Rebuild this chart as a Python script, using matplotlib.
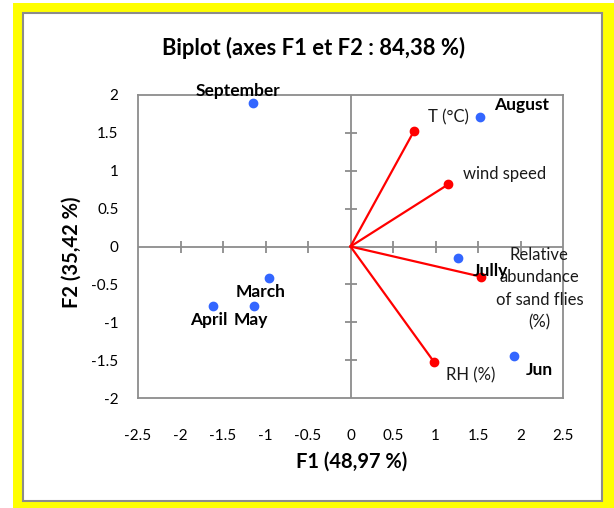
import matplotlib
matplotlib.use("Agg")
import matplotlib.pyplot as plt
from matplotlib.patches import Rectangle
import numpy as np

plt.rcParams['font.family'] = ['Lato', 'DejaVu Sans']

# Observations (months)
obs_names = ["September", "August", "Jully", "Jun", "March", "April", "May"]
obs_f1 = [-1.15, 1.52, 1.27, 1.92, -0.96, -1.62, -1.13]
obs_f2 = [1.89, 1.71, -0.15, -1.44, -0.42, -0.78, -0.78]

# Variables (vectors)
var_names = ["T (°C)", "wind speed", "Relative\nabundance\nof sand flies\n(%)", "RH (%)"]
var_f1 = [0.75, 1.15, 1.54, 0.98]
var_f2 = [1.53, 0.82, -0.40, -1.52]

xticks = [-2.5, -2, -1.5, -1, -0.5, 0, 0.5, 1, 1.5, 2, 2.5]
yticks = [-2, -1.5, -1, -0.5, 0, 0.5, 1, 1.5, 2]

title = "Biplot (axes F1 et F2 : 84,38 %)"
xlabel = "F1 (48,97 %)"
ylabel = "F2 (35,42 %)"

# label offsets (pixels)
obs_off = {"September": (-15, 12), "August": (42, 12), "Jully": (32, -13), "Jun": (26, -14),
           "March": (-8, -14), "April": (-4, -14), "May": (-4, -14)}
var_off = [(34, 13), (56, 10), (58, -12), (37, -14)]

W, H = 614, 508
fig = plt.figure(figsize=(W / 100, H / 100), dpi=100)
fig.patch.set_facecolor("white")
fig.patches.append(Rectangle((13 / W, 0), (W - 13) / W, (508 - 3) / H, transform=fig.transFigure,
                             facecolor="#FFFF00", edgecolor="none", zorder=-3))
fig.patches.append(Rectangle((23 / W, 1 - 501 / H), (602 - 23) / W, (501 - 13) / H, transform=fig.transFigure,
                             facecolor="white", edgecolor="#8C8C8C", linewidth=1.5, zorder=-2))

ax = fig.add_axes([138 / W, 1 - 398 / H, (563 - 138) / W, (398 - 95) / H])
ax.set_xlim(-2.5, 2.5)
ax.set_ylim(-2, 2)
for s in ax.spines.values():
    s.set_color("#8C8C8C")
    s.set_linewidth(1.3)
ax.set_xticks(xticks)
ax.set_yticks(yticks)
ax.set_xticklabels([f"{t:g}" for t in xticks])
ax.set_yticklabels([f"{t:g}" for t in yticks])
ax.tick_params(axis="x", length=0, pad=22, labelsize=11, colors="black")
ax.tick_params(axis="y", length=0, pad=14, labelsize=11, colors="black")

# center axes with ticks
ax.axhline(0, color="#8C8C8C", lw=1.3, zorder=1)
ax.axvline(0, color="#8C8C8C", lw=1.3, zorder=1)
xt = [t for t in xticks if t not in (0, -2.5, 2.5)]
yt = [t for t in yticks if t not in (0, -2, 2)]
ax.plot(xt, np.zeros(len(xt)), ls="none", marker="|", ms=9, mew=1.3, color="#8C8C8C", zorder=1)
ax.plot(np.zeros(len(yt)), yt, ls="none", marker="_", ms=9, mew=1.3, color="#8C8C8C", zorder=1)

# vectors
for name, x, y, off in zip(var_names, var_f1, var_f2, var_off):
    ax.plot([0, x], [0, y], color="#FF0000", lw=1.6, zorder=2)
    ax.annotate(name, (x, y), xytext=off, textcoords="offset pixels", ha="center", va="center",
                fontsize=12, color="#1a1a1a", linespacing=1.5, zorder=4)
ax.plot(var_f1, var_f2, ls="none", marker="o", ms=6, color="#FF0000", zorder=3)

# observations
ax.plot(obs_f1, obs_f2, ls="none", marker="o", ms=6, color="#3366FF", zorder=3)
for name, x, y in zip(obs_names, obs_f1, obs_f2):
    ax.annotate(name, (x, y), xytext=obs_off[name], textcoords="offset pixels", ha="center", va="center",
                fontsize=12.5, fontweight="bold", color="black", zorder=5)

fig.text(314 / W, 1 - 48 / H, title, ha="center", va="center", fontsize=15.8, fontweight="bold")
fig.text(352 / W, 1 - 462 / H, xlabel, ha="center", va="center", fontsize=14.5, fontweight="bold")
fig.text(72 / W, 1 - 252 / H, ylabel, ha="center", va="center", rotation=90, fontsize=14.5, fontweight="bold")

fig.savefig("out.png", dpi=100)
